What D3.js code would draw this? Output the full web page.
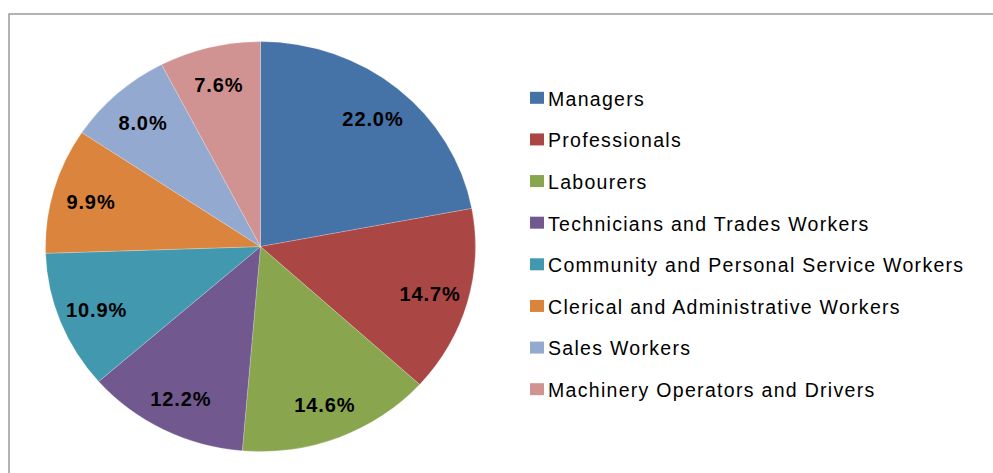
<!DOCTYPE html>
<html>
<head>
<meta charset="utf-8">
<script src="https://cdn.jsdelivr.net/npm/d3@7"></script>
<style>
  body { margin: 0; background: #fff; }
  svg { display: block; }
</style>
</head>
<body>
<svg id="chart" width="993" height="473"></svg>
<script>
// data
const categories = ['Managers', 'Professionals', 'Labourers', 'Technicians and Trades Workers',
  'Community and Personal Service Workers', 'Clerical and Administrative Workers',
  'Sales Workers', 'Machinery Operators and Drivers']
const shares = [22.0, 14.7, 14.6, 12.2, 10.9, 9.9, 8.0, 7.6]
const colors = ['#4572A7', '#AA4643', '#89A54E', '#71588F', '#4198AF', '#DB843D', '#93A9CF', '#D19392']

// layout
const cx = 260.5, cy = 246.6
const rx = 215, ry = 205
const labelFrac = 0.82

let svg = d3.select('#chart')

// chart frame (runs off the right and bottom edge)
svg.append('rect')
  .attr('x', 9).attr('y', 14)
  .attr('width', 1100).attr('height', 600)
  .style('fill', 'none')
  .style('stroke', '#9a9a9a')
  .style('stroke-width', 1.5)

let rows = categories.map((c, i) => ({name: c, value: shares[i], color: colors[i]}))

let pie = d3.pie().sort(null).value(d => d.value)
let arcs = pie(rows)

let arc = d3.arc().innerRadius(0).outerRadius(ry)

// pie is a bit wider than tall in the original, so stretch x
let g = d3.select('svg')
  .append('g')
  .attr('transform', `translate(${cx}, ${cy}) scale(${rx / ry}, 1)`)

g.selectAll('path')
  .data(arcs)
  .enter()
  .append('path')
  .attr('d', arc)
  .style('fill', d => d.data.color)
  .style('stroke', 'rgba(255,255,255,0.35)')
  .style('stroke-width', 0.6)

// percentage labels
svg.selectAll('text.pct')
  .data(arcs)
  .enter()
  .append('text')
  .attr('class', 'pct')
  .attr('x', d => {
    let a = (d.startAngle + d.endAngle) / 2
    return cx + Math.sin(a) * rx * labelFrac
  })
  .attr('y', d => {
    let a = (d.startAngle + d.endAngle) / 2
    return cy - Math.cos(a) * ry * labelFrac + 2
  })
  .attr('dy', '0.35em')
  .attr('text-anchor', 'middle')
  .style('font-family', 'Liberation Sans, Arial, sans-serif')
  .style('font-weight', 'bold')
  .style('font-size', '20px')
  .style('letter-spacing', '0.9px')
  .style('fill', '#000')
  .text(d => d.data.value.toFixed(1) + '%')

// legend
let legendY = d3.scaleBand()
  .domain(categories)
  .range([78, 411])

let lg = svg.append('g')

let item = lg.selectAll('g')
  .data(rows)
  .enter()
  .append('g')
  .attr('transform', d => `translate(530, ${legendY(d.name) + legendY.bandwidth() / 2})`)

item.append('rect')
  .attr('x', 0).attr('y', -7)
  .attr('width', 14).attr('height', 12)
  .style('fill', d => d.color)

item.append('text')
  .attr('x', 18)
  .attr('y', 0)
  .attr('dy', '0.35em')
  .style('font-family', 'Liberation Sans, Arial, sans-serif')
  .style('font-size', '19.5px')
  .style('letter-spacing', '1.3px')
  .style('fill', '#000')
  .text(d => d.name)
</script>
</body>
</html>
